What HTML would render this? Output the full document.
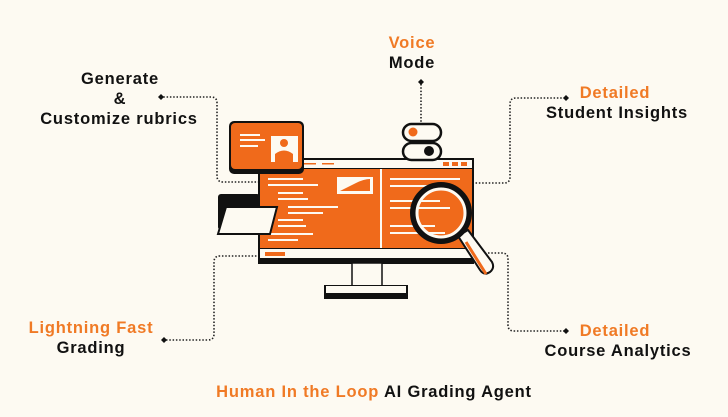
<!DOCTYPE html>
<html><head><meta charset="utf-8"><style>
html,body{margin:0;padding:0;background:#fdfaf2;}
svg{display:block;}
text{font-family:"Liberation Sans",sans-serif;font-weight:bold;font-size:16.5px;letter-spacing:0.8px;}
.o{fill:#f07a25;} .k{fill:#111;}
</style></head><body>
<svg width="728" height="417" viewBox="0 0 728 417" xmlns="http://www.w3.org/2000/svg">
<rect width="728" height="417" fill="#fdfaf2"/>
<g fill="none" stroke="#222" stroke-width="1.6" stroke-dasharray="1.5 1.8">
<path d="M160 97 H211 Q217 97 217 103 V176 Q217 182 223 182 H258"/>
<path d="M421 84 V124"/>
<path d="M565 98 H516 Q510 98 510 104 V177 Q510 183 504 183 H474"/>
<path d="M166 340 H208 Q214 340 214 334 V262 Q214 256 220 256 H260"/>
<path d="M488 253 H502 Q508 253 508 259 V325 Q508 331 514 331 H565"/>
</g>
<g fill="#111">
<path d="M158 97 l3 -3 l3 3 l-3 3z"/>
<path d="M421 79 l3 3 l-3 3 l-3 -3z"/>
<path d="M563 98 l3 -3 l3 3 l-3 3z"/>
<path d="M161 340 l3 -3 l3 3 l-3 3z"/>
<path d="M563 331 l3 -3 l3 3 l-3 3z"/>
</g>
<rect x="258" y="158" width="216" height="106" fill="#111"/>
<rect x="260" y="160" width="212" height="8" fill="#fdfaf2"/>
<rect x="304" y="163" width="12" height="1.5" fill="#f06a1b"/><rect x="322" y="163" width="12" height="1.5" fill="#f06a1b"/>
<rect x="443" y="162" width="6" height="4" fill="#f06a1b"/><rect x="452" y="162" width="6" height="4" fill="#f06a1b"/><rect x="461" y="162" width="6" height="4" fill="#f06a1b"/>
<rect x="260" y="169" width="120" height="79" fill="#f06a1b"/>
<rect x="382" y="169" width="90" height="79" fill="#f06a1b"/>
<rect x="380" y="169" width="2" height="79" fill="#fdfaf2"/>
<rect x="260" y="249" width="212" height="9" fill="#fdfaf2"/>
<rect x="265" y="252" width="20" height="4" fill="#f06a1b"/>
<g fill="#fdfaf2">
<rect x="268" y="178" width="35" height="2"/><rect x="268" y="184" width="50" height="2"/>
<rect x="278" y="192" width="25" height="2"/><rect x="278" y="198" width="30" height="2"/>
<rect x="288" y="206" width="50" height="2"/><rect x="288" y="212" width="35" height="2"/>
<rect x="278" y="219" width="25" height="2"/><rect x="278" y="225" width="28" height="2"/>
<rect x="268" y="233" width="45" height="2"/><rect x="268" y="239" width="30" height="2"/>
<rect x="390" y="178" width="70" height="2"/><rect x="390" y="185" width="40" height="2"/>
<rect x="390" y="200" width="50" height="2"/><rect x="390" y="207" width="60" height="2"/>
<rect x="390" y="225" width="45" height="2"/><rect x="390" y="232" width="55" height="2"/>
</g>
<rect x="337" y="177" width="36" height="17" fill="#fdfaf2"/>
<path d="M340 191 Q350 186 356 183 Q364 179 370 179 V191 Z" fill="#f06a1b"/>
<rect x="352" y="263" width="30" height="24" fill="#fdfaf2" stroke="#111" stroke-width="1.5"/>
<rect x="324" y="285" width="84" height="14" fill="#111"/>
<rect x="326" y="286" width="80" height="7" fill="#fdfaf2"/>
<rect x="229" y="121" width="75" height="53" rx="5" fill="#111"/>
<rect x="231" y="123" width="71" height="46" rx="4" fill="#f06a1b"/>
<rect x="240" y="134" width="20" height="2" fill="#fdfaf2"/><rect x="240" y="139" width="25" height="2" fill="#fdfaf2"/><rect x="240" y="145" width="18" height="2" fill="#fdfaf2"/>
<rect x="271" y="136" width="27" height="26" fill="#fdfaf2"/>
<circle cx="284" cy="143" r="4" fill="#f06a1b"/><path d="M275 162 V154 Q284 147 293 154 V162Z" fill="#f06a1b"/>
<rect x="403" y="124" width="38" height="17" rx="8.5" fill="#fdfaf2" stroke="#111" stroke-width="2.5"/>
<circle cx="413" cy="132" r="4.5" fill="#f06a1b"/>
<rect x="403" y="143" width="38" height="17" rx="8.5" fill="#fdfaf2" stroke="#111" stroke-width="2.5"/>
<circle cx="429" cy="151" r="5" fill="#111"/>
<rect x="218" y="194" width="42" height="36" rx="3" fill="#111"/>
<path d="M226 207 H277 L270 234 H218 Z" fill="#fdfaf2" stroke="#111" stroke-width="2"/>
<path d="M458 236 L480 270 Q484 276 490 272 Q495 268 492 262 L468 230 Z" fill="#fdfaf2" stroke="#111" stroke-width="2"/>
<path d="M466 242 L486 274" stroke="#f06a1b" stroke-width="3"/>
<circle cx="441" cy="213" r="28" fill="none" stroke="#111" stroke-width="6"/>
<circle cx="441" cy="213" r="24" fill="none" stroke="#fdfaf2" stroke-width="3"/>
<text x="120" y="84" text-anchor="middle" class="k">Generate</text>
<text x="120" y="104" text-anchor="middle" class="k">&amp;</text>
<text x="119" y="124" text-anchor="middle" class="k">Customize rubrics</text>
<text x="412" y="48" text-anchor="middle" class="o">Voice</text>
<text x="412" y="68" text-anchor="middle" class="k">Mode</text>
<text x="615" y="98" text-anchor="middle" class="o">Detailed</text>
<text x="617" y="118" text-anchor="middle" class="k">Student Insights</text>
<text x="91" y="333" text-anchor="middle" class="o">Lightning Fast</text>
<text x="91" y="353" text-anchor="middle" class="k">Grading</text>
<text x="615" y="336" text-anchor="middle" class="o">Detailed</text>
<text x="618" y="356" text-anchor="middle" class="k">Course Analytics</text>
<text x="374" y="397" text-anchor="middle"><tspan class="o">Human In the Loop</tspan><tspan class="k"> AI Grading Agent</tspan></text>
</svg>
</body></html>
